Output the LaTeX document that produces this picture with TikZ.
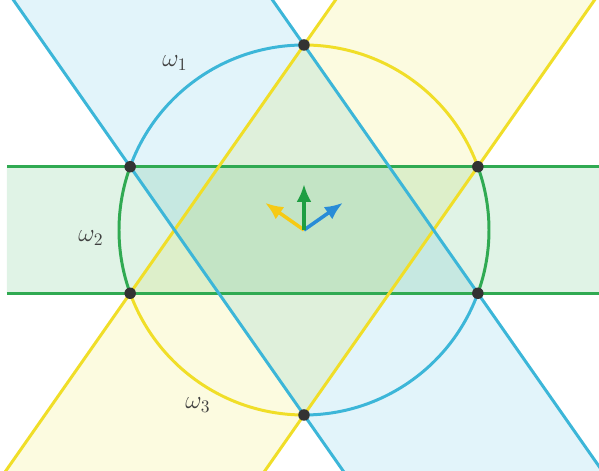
\documentclass[tikz,border=0pt]{standalone}
\usepackage{amsmath,amssymb}
\usepackage{tikz}
\usetikzlibrary{calc,arrows.meta}

\definecolor{wblue}{RGB}{60,182,216}
\definecolor{wyellow}{RGB}{240,222,40}
\definecolor{wgreen}{RGB}{48,170,82}
\definecolor{fblue}{RGB}{226,244,250}
\definecolor{fyellow}{RGB}{252,251,224}
\definecolor{fgreen}{RGB}{224,243,230}
\definecolor{ablue}{RGB}{40,140,215}
\definecolor{ayellow}{RGB}{246,202,20}
\definecolor{agreen}{RGB}{30,158,66}

\begin{document}
\begin{tikzpicture}[
    bound/.style={line width=1.7pt},
    pt/.style={circle, fill=black!80, inner sep=0pt, minimum size=2.3mm},
    vec/.style={-{Latex[length=3.6mm,width=3mm]}, line width=2pt},
    lbl/.style={text=black!75, font=\Large}
  ]
  \useasboundingbox (-6.08,-4.82) rectangle (5.90,4.60);
  \clip (-6.08,-4.82) rectangle (5.90,4.60);
  \def\R{3.7}
  \coordinate (O) at (0,0);
  \foreach \a/\n in {20/A,90/B,160/C,200/D,270/E,340/F}
    \coordinate (\n) at (\a:\R);

  % the three strips
  \begin{scope}[blend group=multiply]
    \fill[fblue] ($(C)!-3!(E)$) -- ($(C)!4!(E)$) -- ($(B)!4!(F)$) -- ($(B)!-3!(F)$) -- cycle;
    \fill[fyellow] ($(A)!-3!(E)$) -- ($(A)!4!(E)$) -- ($(B)!4!(D)$) -- ($(B)!-3!(D)$) -- cycle;
    \fill[fgreen] (-5.94,0 |- C) rectangle (6.2,0 |- F);
  \end{scope}

  % strip borders
  \draw[bound, wgreen] (-5.94,0 |- C) -- (6.2,0 |- A);
  \draw[bound, wgreen] (-5.94,0 |- D) -- (6.2,0 |- F);
  \draw[bound, wyellow] ($(B)!-3!(D)$) -- ($(B)!4!(D)$);
  \draw[bound, wyellow] ($(A)!-3!(E)$) -- ($(A)!4!(E)$);
  \draw[bound, wblue] ($(C)!-3!(E)$) -- ($(C)!4!(E)$);
  \draw[bound, wblue] ($(B)!-3!(F)$) -- ($(B)!4!(F)$);

  % circle in coloured arcs
  \draw[bound, wyellow] (A) arc[start angle=20, end angle=90, radius=\R];
  \draw[bound, wblue] (B) arc[start angle=90, end angle=160, radius=\R];
  \draw[bound, wgreen] (C) arc[start angle=160, end angle=200, radius=\R];
  \draw[bound, wyellow] (D) arc[start angle=200, end angle=270, radius=\R];
  \draw[bound, wblue] (E) arc[start angle=270, end angle=340, radius=\R];
  \draw[bound, wgreen] (F) arc[start angle=340, end angle=380, radius=\R];

  % normals
  \coordinate (ny) at (145:0.95);
  \coordinate (nb) at (35:0.95);
  \coordinate (ng) at (90:0.92);
  \draw[vec, ayellow] (O) -- (ny);
  \draw[vec, ablue] (O) -- (nb);
  \draw[vec, agreen] (O) -- (ng);

  \foreach \n in {A,B,C,D,E,F}
    \node[pt] (d\n) at (\n) {};

  \node[lbl] (w1) at (-2.58,3.34) {$\omega_1$};
  \node[lbl] (w2) at (-4.26,-0.16) {$\omega_2$};
  \node[lbl] (w3) at (-2.12,-3.50) {$\omega_3$};
\end{tikzpicture}
\end{document}
